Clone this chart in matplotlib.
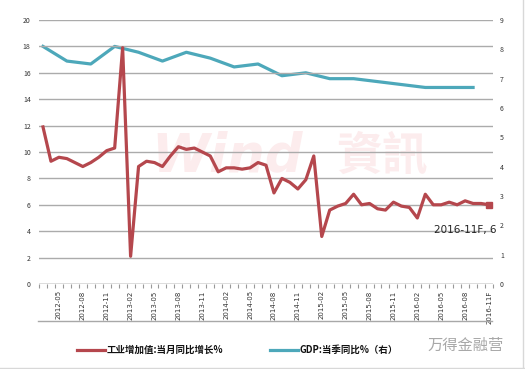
import matplotlib
matplotlib.use("Agg")
import matplotlib.pyplot as plt
from matplotlib.lines import Line2D
import numpy as np

plt.rcParams['font.family'] = ['Noto Sans CJK SC', 'DejaVu Sans']

# monthly categories 2012-03 .. 2016-11F
months = ["%d-%02d" % (y, m) for y in range(2012, 2017) for m in range(1, 13)]
months = months[2:months.index("2016-11") + 1]
months[-1] = "2016-11F"

# industrial value added, monthly yoy %
ip_yoy = [11.9, 9.3, 9.6, 9.5, 9.2, 8.9, 9.2, 9.6, 10.1, 10.3,
          17.9, 2.1, 8.9, 9.3, 9.2, 8.9, 9.7, 10.4, 10.2, 10.3, 10.0, 9.7,
          8.5, 8.8, 8.8, 8.7, 8.8, 9.2, 9.0, 6.9, 8.0, 7.7, 7.2, 7.9,
          9.7, 3.6, 5.6, 5.9, 6.1, 6.8, 6.0, 6.1, 5.7, 5.6, 6.2, 5.9,
          5.8, 5.0, 6.8, 6.0, 6.0, 6.2, 6.0, 6.3, 6.1, 6.1, 6.0]

# GDP quarterly yoy % (right axis), at quarter-end months
gdp_months = ["2012-03", "2012-06", "2012-09", "2012-12",
              "2013-03", "2013-06", "2013-09", "2013-12",
              "2014-03", "2014-06", "2014-09", "2014-12",
              "2015-03", "2015-06", "2015-09", "2015-12",
              "2016-03", "2016-06", "2016-09"]
gdp_yoy = [8.1, 7.6, 7.5, 8.1, 7.9, 7.6, 7.9, 7.7, 7.4, 7.5, 7.1, 7.2,
           7.0, 7.0, 6.9, 6.8, 6.7, 6.7, 6.7]

tick_labels = months[2::3]

red = "#B5474D"
teal = "#4DA8BA"
grid = "#ABABAB"

fig = plt.figure(figsize=(5.25, 3.69), dpi=100)
ax = fig.add_axes([39 / 525, 85 / 369, 454 / 525, 264 / 369])
ax2 = ax.twinx()

x = np.arange(len(months))
gx = [months.index(m) for m in gdp_months]

# watermark
ax.text(0.415, 0.485, "Wind", transform=ax.transAxes, fontsize=38, fontweight="bold",
        style="italic", color="#FCECED", ha="center", va="center", zorder=0,
        family="DejaVu Sans")
ax.text(0.755, 0.485, "資訊", transform=ax.transAxes, fontsize=33, fontweight="bold",
        color="#FCECED", ha="center", va="center", zorder=0,
        family=["Noto Sans CJK TC", "DejaVu Sans"])

ax.set_ylim(0, 20)
ax.set_yticks(range(0, 21, 2))
ax.set_xlim(-0.5, len(months) - 0.5)
ax.grid(axis="y", color=grid, lw=1.0)
ax.set_axisbelow(True)

ax2.plot(gx, gdp_yoy, color=teal, lw=2.3, zorder=3)
ax2.set_ylim(0, 9)
ax2.set_yticks(range(0, 10))

ax.plot(x, ip_yoy, color=red, lw=2.3, zorder=4)
ax.plot(x[-1], ip_yoy[-1], marker="s", ms=5, color=red, zorder=5)
ax.annotate("%s, %g" % (months[-1], ip_yoy[-1]), (x[-1], ip_yoy[-1]),
            xytext=(-24, -25), textcoords="offset pixels", ha="center", va="center",
            fontsize=7.5, color="#222222", family="DejaVu Sans")
ax.set_zorder(ax2.get_zorder() + 1)
ax.patch.set_visible(False)

ax.set_xticks([months.index(m) for m in tick_labels])
ax.set_xticklabels(tick_labels, rotation=90, fontsize=5, color="#333333",
                   family="DejaVu Sans")
ax.set_xticks(np.arange(-0.5, len(months)), minor=True)
ax.tick_params(axis="x", which="major", length=0, pad=4.5)
ax.tick_params(axis="x", which="minor", length=3, color="#999999", width=0.8)
ax.tick_params(axis="y", length=0, labelsize=5, pad=6, labelcolor="#333333")
ax2.tick_params(axis="y", length=0, labelsize=5, pad=5, labelcolor="#333333")

for a in (ax, ax2):
    for s in ("top", "left", "right", "bottom"):
        a.spines[s].set_visible(False)
ax.axhline(0, color="#999999", lw=1.0, zorder=2)

# separator line and legend
fig.add_artist(Line2D([38 / 525, 492 / 525], [1 - 321 / 369] * 2, color="#A8A8A8", lw=1.0))
fig.add_artist(Line2D([523 / 525] * 2, [0, 1], color="#D8D8D8", lw=1.0))
fig.add_artist(Line2D([0, 1], [1 / 369] * 2, color="#D8D8D8", lw=1.0))
ly = 1 - 350 / 369
fig.add_artist(Line2D([77 / 525, 105 / 525], [ly, ly], color=red, lw=2.3))
fig.text(107 / 525, ly, "工业增加值:当月同比增长%", fontsize=6.8, fontweight="bold",
         va="center", ha="left", color="#111111")
fig.add_artist(Line2D([270 / 525, 298 / 525], [ly, ly], color=teal, lw=2.3))
fig.text(300 / 525, ly, "GDP:当季同比%（右）", fontsize=6.8, fontweight="bold",
         va="center", ha="left", color="#111111")
fig.text(466 / 525, 1 - 345 / 369, "万得金融营", fontsize=11, color="#A8A8A8",
         va="center", ha="center", fontweight="light")

fig.savefig("out.png", dpi=100)
